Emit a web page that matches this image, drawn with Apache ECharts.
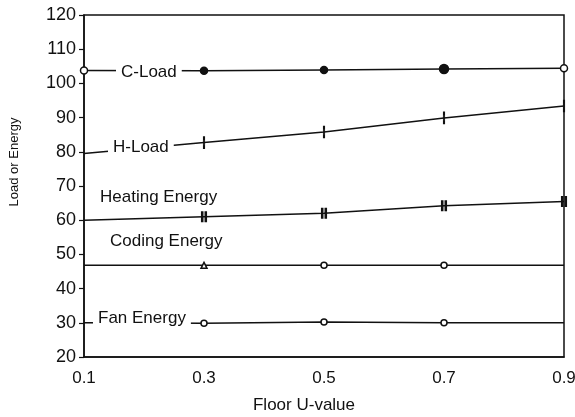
<html>
<head>
<meta charset="UTF-8">
<title>Load or Energy vs Floor U-value</title>
<script src="https://cdn.jsdelivr.net/npm/echarts@6/dist/echarts.min.js"></script>
<style>
    body { margin: 0; padding: 0; background: #fff; }
    #echart { width: 575px; height: 417px; }
</style>
</head>
<body>
<div id="echart"></div>
<script>
    const uValues = ['0.1', '0.3', '0.5', '0.7', '0.9'];
    const cLoad = [103.8, 103.7, 103.9, 104.2, 104.4];
    const hLoad = [79.5, 82.7, 85.8, 89.9, 93.4];
    const heatingEnergy = [60.0, 61.0, 62.0, 64.2, 65.5];
    const codingEnergy = [46.8, 46.8, 46.8, 46.8, 46.8];
    const fanEnergy = [30.0, 29.9, 30.2, 30.0, 30.0];
    const yTicks = { min: 20, max: 120, step: 10 };

    const ink = '#111';
    const font = 'Liberation Sans, Arial, sans-serif';
    const tick = 'path://M0,0h2v10h-2z';
    const dbl = 'path://M0,0h2v10h-2z M5,0h2v10h-2z';

    function line(name, data, symbolFn, sizeFn, fillFn) {
        return {
            name: name,
            type: 'line',
            data: data,
            z: 3,
            symbol: symbolFn,
            symbolSize: sizeFn,
            showAllSymbol: true,
            lineStyle: { color: ink, width: 1.5 },
            itemStyle: { color: fillFn || ink, borderColor: ink, borderWidth: 1.5 },
            emphasis: { disabled: true },
            animation: false
        };
    }

    function label(text, x, y, bg) {
        return {
            type: 'text', x: x, y: y, z: 50,
            style: {
                text: text, font: '17px ' + font, fill: ink,
                verticalAlign: 'middle',
                backgroundColor: bg ? '#fff' : null,
                padding: bg ? [2, 5, 2, 5] : 0
            }
        };
    }

    const ec = echarts.init(document.getElementById('echart'));
    ec.setOption({
        backgroundColor: '#fff',
        animation: false,
        grid: {
            left: 84, right: 11, top: 15, bottom: 60,
            outerBoundsMode: 'none', containLabel: false,
            show: true, borderColor: ink, borderWidth: 1.5
        },
        xAxis: {
            type: 'category',
            data: uValues,
            boundaryGap: false,
            axisLine: { lineStyle: { color: ink, width: 1.5 } },
            axisTick: { show: false },
            axisLabel: { color: ink, fontSize: 17, fontFamily: font, margin: 13 },
            splitLine: { show: false }
        },
        yAxis: {
            type: 'value',
            min: yTicks.min, max: yTicks.max, interval: yTicks.step,
            axisLine: { show: true, lineStyle: { color: ink, width: 1.5 } },
            axisTick: { show: true, length: 5, lineStyle: { color: ink, width: 1.2 } },
            axisLabel: { color: ink, fontSize: 18, fontFamily: font, margin: 8 },
            splitLine: { show: false }
        },
        series: [
            line('C-Load', cLoad,
                (v, p) => 'circle',
                (v, p) => (p.dataIndex === 3 ? 9 : 7),
                p => (p.dataIndex === 0 || p.dataIndex === 4 ? '#fff' : ink)),
            line('H-Load', hLoad,
                (v, p) => (p.dataIndex === 0 ? 'none' : tick),
                [1.5, 9]),
            line('Heating Energy', heatingEnergy,
                (v, p) => (p.dataIndex === 0 ? 'none' : dbl),
                [5, 9]),
            line('Coding Energy', codingEnergy,
                (v, p) => (p.dataIndex === 0 || p.dataIndex === 4 ? 'none' : (p.dataIndex === 1 ? 'triangle' : 'circle')),
                6, '#fff'),
            line('Fan Energy', fanEnergy,
                (v, p) => (p.dataIndex === 0 || p.dataIndex === 4 ? 'none' : 'circle'),
                6, '#fff')
        ],
        graphic: [
            label('C-Load', 116, 72, true),
            label('H-Load', 108, 147, true),
            label('Heating Energy', 100, 197, false),
            label('Coding Energy', 110, 241, false),
            label('Fan Energy', 93, 318, true),
            {
                type: 'text', x: 14, y: 162, rotation: Math.PI / 2, z: 50,
                style: { text: 'Load or Energy', font: '13px ' + font, fill: ink, align: 'center', verticalAlign: 'middle' }
            },
            {
                type: 'text', x: 304, y: 405, z: 50,
                style: { text: 'Floor U-value', font: '17px ' + font, fill: ink, align: 'center', verticalAlign: 'middle' }
            }
        ]
    });
</script>
</body>
</html>
